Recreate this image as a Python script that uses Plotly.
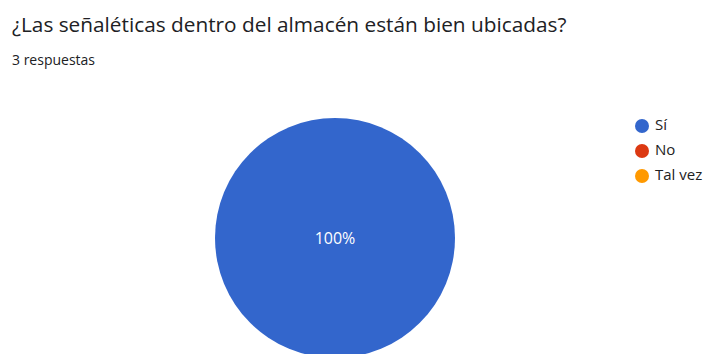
import plotly.graph_objects as go

title_text = "¿Las señaléticas dentro del almacén están bien ubicadas?"
subtitle_text = "3 respuestas"
labels = ["Sí", "No", "Tal vez"]
values = [3, 0, 0]
colors = ["#3366cc", "#dc3912", "#ff9900"]

W, H = 704, 360
FONT = "Open Sans"

fig = go.Figure()

fig.add_trace(go.Pie(
    labels=labels,
    values=values,
    marker=dict(colors=colors, line=dict(width=0)),
    sort=False,
    direction="clockwise",
    texttemplate=["%{percent:.0%}" if v > 0 else "" for v in values],
    textposition="inside",
    insidetextfont=dict(color="white", size=16, family=FONT),
    showlegend=False,
    hoverinfo="skip",
    domain=dict(x=[215 / W, 455 / W], y=[1 - 358 / H, 1 - 118 / H]),
))

# manual legend: circular markers
fig.add_trace(go.Scatter(
    x=[0] * len(labels),
    y=list(range(len(labels))),
    mode="markers",
    marker=dict(color=colors, size=14, symbol="circle"),
    cliponaxis=False,
    showlegend=False,
    hoverinfo="skip",
    xaxis="x", yaxis="y",
))
# manual legend: labels
fig.add_trace(go.Scatter(
    x=[0] * len(labels),
    y=list(range(len(labels))),
    mode="text",
    text=labels,
    textposition="middle right",
    textfont=dict(size=15, color="#222222", family=FONT),
    cliponaxis=False,
    showlegend=False,
    hoverinfo="skip",
    xaxis="x2", yaxis="y",
))

fig.update_layout(
    width=W, height=H,
    margin=dict(l=0, r=0, t=0, b=0),
    paper_bgcolor="white",
    plot_bgcolor="rgba(0,0,0,0)",
    font=dict(family=FONT, color="#202124"),
    xaxis=dict(domain=[642 / W, 702 / W], range=[0, 1], visible=False, fixedrange=True),
    xaxis2=dict(domain=[655 / W, 702 / W], range=[0, 1], visible=False, fixedrange=True),
    yaxis=dict(domain=[1 - 188.5 / H, 1 - 113.5 / H], range=[2.5, -0.5], visible=False, fixedrange=True),
    annotations=[
        dict(text=title_text, x=10 / W, y=1 - 24 / H, xref="paper", yref="paper",
             xanchor="left", yanchor="middle", showarrow=False,
             font=dict(size=20.8, color="#202124", family=FONT)),
        dict(text=subtitle_text, x=10 / W, y=1 - 60 / H, xref="paper", yref="paper",
             xanchor="left", yanchor="middle", showarrow=False,
             font=dict(size=14, color="#202124", family=FONT)),
    ],
)

fig.write_html("out.html", config=dict(displayModeBar=False),
               post_script="document.documentElement.style.overflow='hidden';document.body.style.overflow='hidden';document.body.style.margin='0';")
